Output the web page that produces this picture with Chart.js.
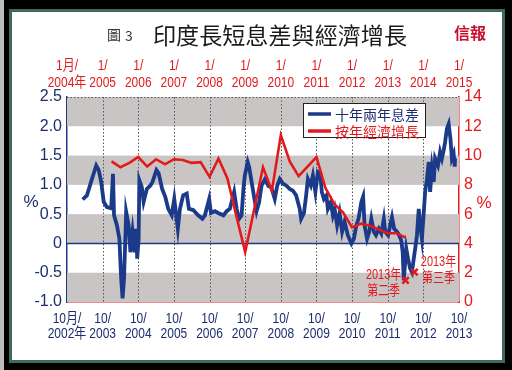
<!DOCTYPE html>
<html><head><meta charset="utf-8">
<script src="https://cdn.jsdelivr.net/npm/chart.js@4.4.0/dist/chart.umd.min.js"></script>
<style>html,body{margin:0;padding:0;background:#000;}canvas{display:block;}</style>
</head><body><canvas id="c" width="512" height="370"></canvas>
<script>
// ---- data ----
const bottomTickLabels = [['10月/','2002年'],['10/','2003'],['10/','2004'],['10/','2005'],['10/','2006'],['10/','2007'],['10/','2008'],['10/','2009'],['10/','2010'],['10/','2011'],['10/','2012'],['10/','2013']];
const topTickLabels = [['1月/','2004年'],['1/','2005'],['1/','2006'],['1/','2007'],['1/','2008'],['1/','2009'],['1/','2010'],['1/','2011'],['1/','2012'],['1/','2013'],['1/','2014'],['1/','2015']];
const seriesNames = ['十年兩年息差','按年經濟增長'];
const titleMain = '印度長短息差與經濟增長';
const titleFig = '圖3';
const sourceText = '信報';

// 10y-2y spread (%), dates as decimal years (bottom axis)
const spreadDates = [2003.19,2003.31,2003.45,2003.57,2003.64,2003.71,2003.78,2003.87,2003.99,2004.04,2004.07,2004.15,2004.22,2004.27,2004.31,2004.35,2004.39,2004.41,2004.48,2004.53,2004.59,2004.65,2004.69,2004.72,2004.76,2004.78,2004.85,2004.90,2004.99,2005.09,2005.15,2005.26,2005.32,2005.42,2005.51,2005.59,2005.69,2005.76,2005.86,2005.92,2006.01,2006.11,2006.17,2006.29,2006.43,2006.55,2006.62,2006.74,2006.79,2006.90,2006.99,2007.14,2007.23,2007.32,2007.39,2007.44,2007.51,2007.58,2007.65,2007.70,2007.74,2007.82,2007.86,2007.93,2008.01,2008.07,2008.14,2008.21,2008.31,2008.40,2008.48,2008.58,2008.65,2008.72,2008.81,2008.90,2009.00,2009.09,2009.18,2009.28,2009.32,2009.40,2009.46,2009.51,2009.59,2009.65,2009.72,2009.79,2009.86,2009.90,2009.96,2010.03,2010.07,2010.15,2010.21,2010.26,2010.33,2010.40,2010.47,2010.54,2010.63,2010.73,2010.80,2010.87,2010.93,2011.01,2011.06,2011.10,2011.17,2011.23,2011.29,2011.36,2011.42,2011.50,2011.57,2011.64,2011.68,2011.76,2011.82,2011.87,2011.93,2012.01,2012.07,2012.13,2012.17,2012.20,2012.24,2012.27,2012.32,2012.38,2012.43,2012.48,2012.52,2012.57,2012.62,2012.66,2012.71,2012.76,2012.80,2012.85,2012.90,2012.94,2012.99,2013.04,2013.08,2013.16,2013.22,2013.27,2013.32,2013.36,2013.41,2013.46,2013.51,2013.55,2013.60,2013.63,2013.64];
const spreadValues = [0.75,0.82,1.10,1.33,1.25,1.05,0.71,0.62,0.60,1.19,0.48,0.31,0.08,-0.60,-0.94,-0.60,0.14,0.54,0.31,-0.15,0.20,-0.15,0.25,-0.26,0.08,1.08,0.96,0.71,0.93,0.99,1.05,1.25,1.20,0.93,0.79,0.59,0.48,0.76,0.25,0.59,0.82,0.85,0.59,0.57,0.48,0.42,0.48,0.76,0.52,0.55,0.52,0.48,0.55,0.59,0.76,0.88,0.59,0.42,0.48,0.93,1.16,1.39,1.31,1.05,0.76,0.55,0.70,0.99,1.10,0.98,0.96,0.76,0.99,1.10,1.02,0.99,0.93,0.90,0.82,0.59,0.42,0.52,0.82,1.10,0.99,1.16,0.88,1.22,1.19,0.88,0.76,0.82,0.59,0.70,0.48,0.59,0.31,0.52,0.20,0.37,0.14,0.00,0.08,0.31,0.42,0.71,0.80,0.31,0.08,0.20,0.42,0.20,0.14,0.25,0.17,0.42,0.20,0.14,0.31,0.45,0.25,0.20,0.14,0.05,-0.15,-0.63,-0.32,-0.09,-0.26,-0.43,-0.49,-0.26,-0.09,0.14,0.59,0.31,0.08,0.52,0.88,1.10,1.39,0.88,1.28,1.05,1.45,1.33,1.56,1.45,1.59,1.73,1.96,2.04,1.79,1.45,1.53,1.31,1.45];

// year-on-year GDP growth (%), quarterly (top axis)
const gdpQuarters = ['2005Q1','2005Q2','2005Q3','2005Q4','2006Q1','2006Q2','2006Q3','2006Q4','2007Q1','2007Q2','2007Q3','2007Q4','2008Q1','2008Q2','2008Q3','2008Q4','2009Q1','2009Q2','2009Q3','2009Q4','2010Q1','2010Q2','2010Q3','2010Q4','2011Q1','2011Q2','2011Q3','2011Q4','2012Q1','2012Q2','2012Q3','2012Q4','2013Q1','2013Q2'];
const gdpValues = [9.6,9.2,9.5,9.9,9.25,9.75,9.4,9.75,9.7,9.5,9.55,8.55,9.8,8.45,5.9,3.4,6.3,9.2,7.6,11.4,9.6,8.6,9.25,9.9,7.8,6.7,6.1,5.1,5.35,5.2,4.95,4.7,4.7,4.4];

// marked points on the spread line
const markQuarters = ['2013Q2','2013Q3'];
const markValues = [-0.63,-0.49];
const markLabels = [['2013年','第二季'],['2013年','第三季']];

// ---- helpers ----
const BOTTOM_START = 2002.75, TOP_START = 2004;
const spreadX = y => (y - BOTTOM_START) * 12;
const quarterX = s => { const Y = +s.slice(0,4), q = +s.slice(5); return (Y - TOP_START) * 12 + 3 * q; };

const NAVY = '#1b3a8a', RED = '#e3191c', TXTNAVY = '#1c2d6e';
const SANS = '"Liberation Sans",Arial,"Noto Sans CJK TC",sans-serif';
const CJK = '"Noto Sans CJK TC","Noto Sans CJK SC",sans-serif';

function narrowText(ctx, text, x, y, sx) {
  ctx.save(); ctx.translate(x, y); ctx.scale(sx, 1);
  ctx.fillText(text, 0, 0); ctx.restore();
}

const framePlugin = {
  id: 'frame',
  beforeDraw(chart) {
    const ctx = chart.ctx;
    ctx.save();
    ctx.fillStyle = '#000'; ctx.fillRect(0,0,512,370);
    ctx.fillStyle = '#bdbdbd'; ctx.fillRect(0,0,4,370);
    ctx.fillStyle = '#3d6b55'; ctx.fillRect(9,9,496,354);
    ctx.fillStyle = '#fff'; ctx.fillRect(12,12,490,348);
    // title
    ctx.textBaseline = 'middle'; ctx.textAlign = 'left';
    ctx.fillStyle = '#333'; ctx.font = '14px ' + CJK;
    ctx.fillText(titleFig[0], 107, 35);
    ctx.fillText(titleFig.slice(1), 125, 36);
    ctx.font = '24px ' + CJK;
    const w = ctx.measureText(titleMain).width;
    const fs = Math.min(25, 24 * 254 / w);
    ctx.fillStyle = '#1a1a1a'; ctx.font = fs.toFixed(1) + 'px ' + CJK;
    ctx.fillText(titleMain, 153, 35);
    ctx.fillStyle = '#c8102e'; ctx.font = 'bold 16px ' + CJK;
    ctx.fillText(sourceText, 454, 33);
    ctx.restore();
  },
  beforeDatasetsDraw(chart) {
    const {ctx, chartArea: ca, scales} = chart;
    const y = scales.y, xb = scales.x;
    ctx.save();
    // gray bands
    ctx.fillStyle = '#c9c5c5';
    for (let v = Math.ceil(y.min); v + 0.5 <= y.max + 1e-9; v += 1) {
      const t = y.getPixelForValue(v + 0.5), b = y.getPixelForValue(v);
      ctx.fillRect(ca.left, t, ca.right - ca.left, b - t);
    }
    // dotted verticals
    ctx.strokeStyle = '#555'; ctx.lineWidth = 1; ctx.setLineDash([1.5,2]);
    xb.ticks.forEach((tk, i) => {
      if (i === 0 || i === xb.ticks.length - 1) return;
      const px = Math.round(xb.getPixelForValue(tk.value)) + 0.5;
      ctx.beginPath(); ctx.moveTo(px, ca.top); ctx.lineTo(px, ca.bottom); ctx.stroke();
    });
    // dotted top border
    ctx.beginPath(); ctx.moveTo(ca.left, ca.top + 0.5); ctx.lineTo(ca.right, ca.top + 0.5); ctx.stroke();
    ctx.setLineDash([]);
    // zero line
    const z = Math.round(y.getPixelForValue(0)) + 0.5;
    ctx.strokeStyle = NAVY; ctx.lineWidth = 1.5;
    ctx.beginPath(); ctx.moveTo(ca.left, z); ctx.lineTo(ca.right, z); ctx.stroke();
    ctx.restore();
  },
  afterDraw(chart) {
    const {ctx, chartArea: ca, scales} = chart;
    ctx.save();
    ctx.textBaseline = 'middle'; ctx.textAlign = 'center';
    // x tick labels (narrow)
    ctx.font = '15px ' + SANS;
    ctx.fillStyle = TXTNAVY;
    scales.x.ticks.forEach((tk, i) => {
      const px = scales.x.getPixelForValue(tk.value);
      narrowText(ctx, bottomTickLabels[i][0], px, ca.bottom + 17, 0.8);
      narrowText(ctx, bottomTickLabels[i][1], px, ca.bottom + 32, 0.8);
    });
    ctx.fillStyle = RED;
    scales.x2.ticks.forEach((tk, i) => {
      const px = scales.x2.getPixelForValue(tk.value);
      narrowText(ctx, topTickLabels[i][0], px, ca.top - 31, 0.8);
      narrowText(ctx, topTickLabels[i][1], px, ca.top - 14, 0.8);
    });
    // axis unit labels
    ctx.font = '17px "Liberation Sans",Arial,sans-serif';
    ctx.fillStyle = TXTNAVY; ctx.fillText('%', 31, 202);
    ctx.fillStyle = RED; ctx.fillText('%', 484, 203);
    // annotations next to marks
    ctx.font = '14px ' + SANS;
    ctx.fillStyle = RED;
    markQuarters.forEach((q, i) => {
      const px = scales.x2.getPixelForValue(quarterX(q));
      const py = scales.y.getPixelForValue(markValues[i]);
      const dx = i === 0 ? -22 : 24, dy = i === 0 ? -5 : -10;
      narrowText(ctx, markLabels[i][0], px + dx, py + dy, 0.78);
      narrowText(ctx, markLabels[i][1], px + dx, py + dy + 16, 0.78);
    });
    // legend
    const lx = ca.left + 236, ly = ca.top + 6, lw = 122, lh = 34;
    ctx.fillStyle = '#fff'; ctx.fillRect(lx, ly, lw, lh);
    ctx.strokeStyle = '#222'; ctx.lineWidth = 1;
    ctx.strokeRect(lx + 0.5, ly + 0.5, lw, lh);
    const cols = [NAVY, RED], tcols = [TXTNAVY, RED];
    ctx.font = '14px ' + CJK; ctx.textAlign = 'left';
    seriesNames.forEach((n, i) => {
      const ry = ly + 11 + i * 17;
      ctx.strokeStyle = cols[i]; ctx.lineWidth = 3.5;
      ctx.beginPath(); ctx.moveTo(lx + 5, ry); ctx.lineTo(lx + 28, ry); ctx.stroke();
      ctx.fillStyle = tcols[i]; ctx.fillText(n, lx + 32, ry + 1);
    });
    ctx.restore();
  }
};

new Chart(document.getElementById('c'), {
  type: 'line',
  data: {
    datasets: [
      { label: 'marks', xAxisID: 'x2', yAxisID: 'y', showLine: false,
        data: markQuarters.map((q, i) => ({x: quarterX(q), y: markValues[i]})),
        pointStyle: 'crossRot', pointRadius: 4.5, borderColor: RED, borderWidth: 2.5, order: 0 },
      { label: seriesNames[1], xAxisID: 'x2', yAxisID: 'y2',
        data: gdpQuarters.map((q, i) => ({x: quarterX(q), y: gdpValues[i]})),
        borderColor: RED, borderWidth: 2.6, pointRadius: 0, tension: 0, order: 1 },
      { label: seriesNames[0], xAxisID: 'x', yAxisID: 'y',
        data: spreadDates.map((d, i) => ({x: spreadX(d), y: spreadValues[i]})),
        borderColor: NAVY, borderWidth: 3.8, pointRadius: 0, tension: 0, borderJoinStyle: 'miter', order: 2 }
    ]
  },
  options: {
    responsive: false, devicePixelRatio: 1, animation: false,
    layout: { padding: 0 },
    plugins: { legend: { display: false }, tooltip: { enabled: false } },
    scales: {
      x: { type: 'linear', position: 'bottom', min: 0, max: 132,
        afterFit: s => { s.height = 68; },
        grid: { display: false, drawTicks: false },
        border: { display: true, color: RED, width: 1.5 },
        ticks: { stepSize: 12, display: false } },
      x2: { type: 'linear', position: 'top', min: 0, max: 132,
        afterFit: s => { s.height = 97; },
        grid: { display: false, drawTicks: false },
        border: { display: false },
        ticks: { stepSize: 12, display: false } },
      y: { position: 'left', min: -1, max: 2.5,
        afterFit: s => { s.width = 67; },
        grid: { display: false, drawTicks: false },
        border: { display: true, color: NAVY, width: 1.5 },
        ticks: { stepSize: 0.5, padding: 5, color: TXTNAVY,
          font: { family: '"Liberation Sans",Arial,sans-serif', size: 16 },
          callback: v => v === 0 ? '0' : v.toFixed(1) } },
      y2: { position: 'right', min: 0, max: 14,
        afterFit: s => { s.width = 53; },
        grid: { display: false, drawTicks: false },
        border: { display: true, color: RED, width: 1.5 },
        ticks: { stepSize: 2, padding: 5, color: RED,
          font: { family: '"Liberation Sans",Arial,sans-serif', size: 16 } } }
    }
  },
  plugins: [framePlugin]
});
</script></body></html>
